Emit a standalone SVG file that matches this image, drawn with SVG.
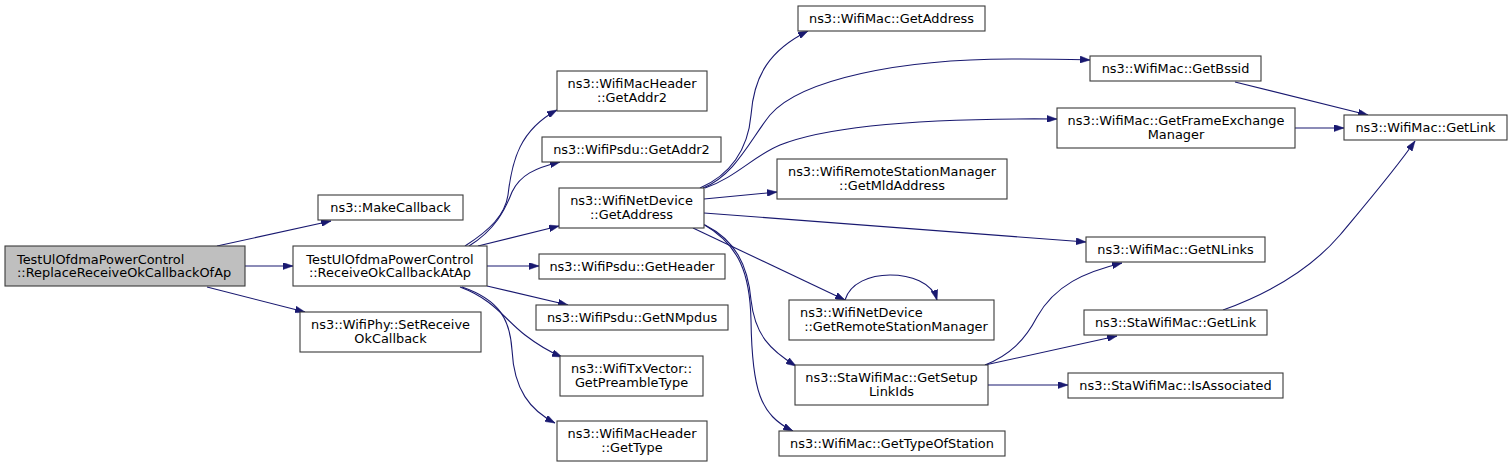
<svg xmlns="http://www.w3.org/2000/svg" width="1512" height="467" viewBox="0 0 1512 467">
<style>
.n rect{fill:#ffffff;stroke:#3a3a3a;stroke-width:1.1}
.n.root rect{fill:#bfbfbf}
.n text{font-family:"DejaVu Sans","Liberation Sans",sans-serif;font-size:12.9px;fill:#000;text-anchor:middle}
.n text.l{text-anchor:start}
.e path{fill:none;stroke:#191970;stroke-width:1.1;marker-end:url(#ah)}
</style>
<defs>
<marker id="ah" viewBox="0 0 10 7" refX="10" refY="3.5" markerWidth="10" markerHeight="7" markerUnits="userSpaceOnUse" orient="auto">
<path d="M0,0 L10,3.5 L0,7 z" fill="#191970" stroke="#191970" stroke-width="0.5"/>
</marker>
</defs>
<rect width="1512" height="467" fill="#ffffff"/>
<g id="edges" class="e">
<path d="M217,246 L331,221"/>
<path d="M245,266 L293,266"/>
<path d="M207,287 L305,312"/>
<path d="M465,246 C490,230 505,215 508,195 C512,160 520,130 557,110"/>
<path d="M469,246 C495,230 505,210 512,192 C520,175 535,168 560,162"/>
<path d="M478,246 L559,226"/>
<path d="M487,266 L539,266"/>
<path d="M487,286 L568,305"/>
<path d="M460,287 C495,300 505,320 525,335 C538,345 550,352 562,357"/>
<path d="M462,287 C500,300 510,320 512,350 C514,390 530,410 555,423"/>
<path d="M700,188 C730,175 748,150 751,115 C754,75 770,50 808,31"/>
<path d="M703,188 C735,175 750,140 770,115 C800,80 900,58 1020,59 C1050,59 1070,59 1090,60"/>
<path d="M705,188 C735,178 755,155 780,145 C830,125 930,118 1057,119"/>
<path d="M704,199 L777,192"/>
<path d="M704,213 L1086,242"/>
<path d="M693,228 L845,300"/>
<path d="M705,225 C735,240 748,265 751,300 C755,335 770,350 796,366"/>
<path d="M703,224 C740,245 750,275 751,320 C752,390 760,415 793,431"/>
<path d="M845,300 C850,283 870,275 890,275 C910,275 932,282 937,300"/>
<path d="M985,365 C1010,355 1025,340 1037,317 C1055,285 1085,272 1122,263"/>
<path d="M985,365 L1117,336"/>
<path d="M988,385 L1068,385"/>
<path d="M1235,82 L1368,115"/>
<path d="M1295,128 L1344,128"/>
<path d="M1223,310 C1270,293 1310,270 1340,235 C1365,205 1395,170 1415,141"/>
</g>
<g id="n_root" class="n root"><rect x="5" y="246" width="240" height="40"/><text class="l" x="17" y="263.5">TestUlOfdmaPowerControl</text><text class="l" x="17" y="277">::ReplaceReceiveOkCallbackOfAp</text></g>
<g id="n_makecallback" class="n"><rect x="318" y="195" width="145" height="25"/><text x="390.5" y="211.5">ns3::MakeCallback</text></g>
<g id="n_recvatap" class="n"><rect x="293" y="246" width="194" height="40"/><text x="390" y="263.5">TestUlOfdmaPowerControl</text><text x="390" y="277">::ReceiveOkCallbackAtAp</text></g>
<g id="n_setreceive" class="n"><rect x="300" y="312" width="181" height="40"/><text x="390.5" y="329">ns3::WifiPhy::SetReceive</text><text x="390.5" y="342.5">OkCallback</text></g>
<g id="n_macgetaddress" class="n"><rect x="798" y="6" width="187" height="25"/><text x="891.5" y="22.5">ns3::WifiMac::GetAddress</text></g>
<g id="n_hdraddr2" class="n"><rect x="557" y="71" width="150" height="40"/><text x="632" y="88">ns3::WifiMacHeader</text><text x="632" y="101.5">::GetAddr2</text></g>
<g id="n_psduaddr2" class="n"><rect x="542" y="137" width="179" height="25"/><text x="631.5" y="153.5">ns3::WifiPsdu::GetAddr2</text></g>
<g id="n_devgetaddress" class="n"><rect x="559" y="188" width="145" height="40"/><text x="631.5" y="205">ns3::WifiNetDevice</text><text x="631.5" y="218.5">::GetAddress</text></g>
<g id="n_mldaddress" class="n"><rect x="777" y="159" width="230" height="40"/><text x="892" y="176">ns3::WifiRemoteStationManager</text><text x="892" y="189.5">::GetMldAddress</text></g>
<g id="n_getheader" class="n"><rect x="539" y="254" width="186" height="25"/><text x="632" y="270.5">ns3::WifiPsdu::GetHeader</text></g>
<g id="n_getnmpdus" class="n"><rect x="536" y="305" width="192" height="25"/><text x="632" y="321.5">ns3::WifiPsdu::GetNMpdus</text></g>
<g id="n_preamble" class="n"><rect x="560" y="356" width="143" height="40"/><text x="631.5" y="373">ns3::WifiTxVector::</text><text x="631.5" y="386.5">GetPreambleType</text></g>
<g id="n_gettype" class="n"><rect x="557" y="421" width="150" height="40"/><text x="632" y="438">ns3::WifiMacHeader</text><text x="632" y="451.5">::GetType</text></g>
<g id="n_rsm" class="n"><rect x="789" y="300" width="205" height="40"/><text class="l" x="800" y="317">ns3::WifiNetDevice</text><text x="896" y="330.5">::GetRemoteStationManager</text></g>
<g id="n_setuplinkids" class="n"><rect x="795" y="365" width="193" height="40"/><text x="891.5" y="382">ns3::StaWifiMac::GetSetup</text><text x="891.5" y="395.5">LinkIds</text></g>
<g id="n_typeofstation" class="n"><rect x="779" y="431" width="226" height="25"/><text x="892" y="447.5">ns3::WifiMac::GetTypeOfStation</text></g>
<g id="n_bssid" class="n"><rect x="1090" y="56" width="171" height="25"/><text x="1175.5" y="72.5">ns3::WifiMac::GetBssid</text></g>
<g id="n_fem" class="n"><rect x="1057" y="108" width="238" height="40"/><text x="1176" y="125">ns3::WifiMac::GetFrameExchange</text><text x="1176" y="138.5">Manager</text></g>
<g id="n_macgetlink" class="n"><rect x="1344" y="115" width="163" height="25"/><text x="1425.5" y="131.5">ns3::WifiMac::GetLink</text></g>
<g id="n_nlinks" class="n"><rect x="1086" y="237" width="179" height="25"/><text x="1175.5" y="253.5">ns3::WifiMac::GetNLinks</text></g>
<g id="n_stagetlink" class="n"><rect x="1084" y="310" width="183" height="25"/><text x="1175.5" y="326.5">ns3::StaWifiMac::GetLink</text></g>
<g id="n_isassociated" class="n"><rect x="1068" y="373" width="215" height="25"/><text x="1175.5" y="389.5">ns3::StaWifiMac::IsAssociated</text></g>
</svg>
